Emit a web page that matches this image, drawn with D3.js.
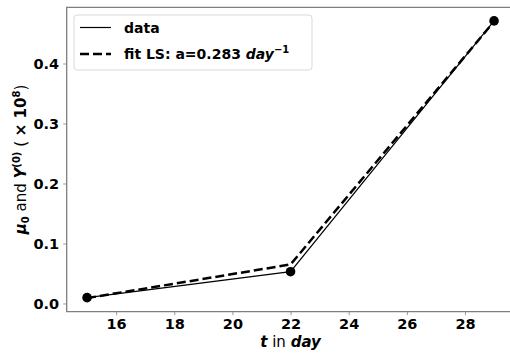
<!DOCTYPE html>
<html>
<head>
<meta charset="utf-8">
<script src="https://cdn.jsdelivr.net/npm/d3@7"></script>
<style>
  body { margin: 0; background: #fff; }
  svg { display: block; }
  text { font-family: "DejaVu Sans", sans-serif; }
</style>
</head>
<body>
<svg id="chart" width="510" height="355"></svg>
<script>
// Observed days and measured values (×10^8)
const days = [15, 22, 29];
const dataValues = [0.0097, 0.053, 0.471];
// Least-squares exponential fit evaluated at the same days
const fitValues = [0.009, 0.065, 0.47];
const fitRate = "0.283";
const xTicks = [16, 18, 20, 22, 24, 26, 28];
const yTicks = [0.0, 0.1, 0.2, 0.3, 0.4];

const svg = d3.select("#chart");
const plotL = 66.7, plotR = 514.4, plotT = 7.3, plotB = 311.7;

const x = d3.scaleLinear().domain([14.3, 29.7]).range([plotL, plotR]);
const y = d3.scaleLinear().domain([-0.0137, 0.4937]).range([plotB, plotT]);

const spine = "#7f7f7f";

// Axes
const xAxis = svg.append("g").attr("transform", `translate(0,${plotB})`)
  .call(d3.axisBottom(x).tickValues(xTicks).tickSize(3.5).tickPadding(3.5).tickFormat(d3.format("d")));
const yAxis = svg.append("g").attr("transform", `translate(${plotL},0)`)
  .call(d3.axisLeft(y).tickValues(yTicks).tickSize(3.5).tickPadding(4).tickFormat(d3.format(".1f")));

[xAxis, yAxis].forEach(g => {
  g.select(".domain").remove();
  g.selectAll(".tick line").attr("stroke", spine).attr("stroke-width", 0.8);
  g.selectAll(".tick text").attr("fill", "#000").attr("font-size", 14.5)
    .attr("font-weight", "bold").attr("font-family", "DejaVu Sans, sans-serif");
});

// Frame (top, left, bottom)
svg.append("path")
  .attr("d", `M${plotR},${plotT}H${plotL}V${plotB}H${plotR}`)
  .attr("fill", "none").attr("stroke", spine).attr("stroke-width", 1.3);

const line = d3.line().x(d => x(d[0])).y(d => y(d[1]));

// Measured series
svg.append("path")
  .datum(days.map((d, i) => [d, dataValues[i]]))
  .attr("d", line).attr("fill", "none").attr("stroke", "#000").attr("stroke-width", 1.2);

// Fit series
svg.append("path")
  .datum(days.map((d, i) => [d, fitValues[i]]))
  .attr("d", line).attr("fill", "none").attr("stroke", "#000")
  .attr("stroke-width", 2.5).attr("stroke-dasharray", "9,4");

// Markers on the measured points
svg.selectAll("circle.pt")
  .data(days.map((d, i) => [d, dataValues[i]]))
  .join("circle").attr("class", "pt")
  .attr("cx", d => x(d[0])).attr("cy", d => y(d[1])).attr("r", 4.8).attr("fill", "#000");

// Legend
const lg = svg.append("g");
lg.append("rect").attr("x", 74).attr("y", 15).attr("width", 238).attr("height", 55)
  .attr("rx", 3).attr("fill", "#fff").attr("fill-opacity", 0.8)
  .attr("stroke", "#d9d9d9").attr("stroke-width", 1);
lg.append("line").attr("x1", 80).attr("x2", 111).attr("y1", 27.5).attr("y2", 27.5)
  .attr("stroke", "#000").attr("stroke-width", 1.2);
lg.append("line").attr("x1", 80).attr("x2", 111).attr("y1", 54).attr("y2", 54)
  .attr("stroke", "#000").attr("stroke-width", 2.5).attr("stroke-dasharray", "9,4");
lg.append("text").attr("x", 124).attr("y", 32.5).attr("font-size", 14)
  .attr("font-weight", "bold").text("data");
const t2 = lg.append("text").attr("x", 124).attr("y", 59).attr("font-size", 14).attr("font-weight", "bold");
t2.append("tspan").text(`fit LS: a=${fitRate} `);
t2.append("tspan").attr("font-style", "italic").text("day");
t2.append("tspan").attr("font-size", 10).attr("dy", -6).text("−1");

// X label
const xl = svg.append("text").attr("x", (plotL + plotR) / 2).attr("y", 347)
  .attr("text-anchor", "middle").attr("font-size", 15);
xl.append("tspan").attr("font-weight", "bold").attr("font-style", "italic").text("t");
xl.append("tspan").text(" in ");
xl.append("tspan").attr("font-weight", "bold").attr("font-style", "italic").text("day");

// Y label
const yl = svg.append("text").attr("transform", `translate(26,${(plotT + plotB) / 2}) rotate(-90)`)
  .attr("text-anchor", "middle").attr("font-size", 15);
yl.append("tspan").attr("font-weight", "bold").attr("font-style", "italic").text("μ");
yl.append("tspan").attr("font-weight", "bold").attr("font-size", 10).attr("dy", 3).text("0");
yl.append("tspan").attr("dy", -3).text(" and ");
yl.append("tspan").attr("font-weight", "bold").attr("font-style", "italic").text("Y");
yl.append("tspan").attr("font-weight", "bold").attr("font-size", 10).attr("dy", -6).text("(0)");
yl.append("tspan").attr("dy", 6).text("  ( ");
yl.append("tspan").attr("font-weight", "bold").text("× 10");
yl.append("tspan").attr("font-weight", "bold").attr("font-size", 10).attr("dy", -6).text("8");
yl.append("tspan").attr("dy", 6).text(")");
</script>
</body>
</html>
